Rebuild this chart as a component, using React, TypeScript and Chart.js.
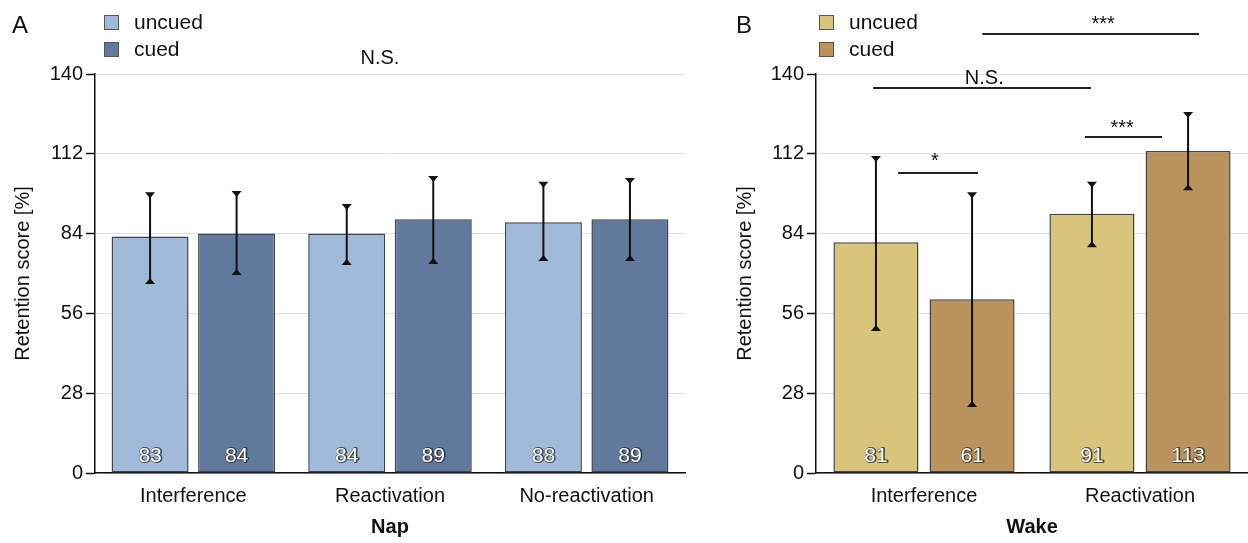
import React, { useEffect, useRef } from 'react';
import { Chart, registerables } from 'chart.js';

Chart.register(...registerables);

const FONT = "'Liberation Sans', Arial, Helvetica, sans-serif";

// ---------- Data ----------
const yTickValues = [0, 28, 56, 84, 112, 140];

const napCategories = ['Interference', 'Reactivation', 'No-reactivation'];
const napUncued = [83, 84, 88];
const napCued = [84, 89, 89];
const napUncuedLow = [66.7, 73.3, 74.7];
const napUncuedHigh = [98.2, 94.0, 101.8];
const napCuedLow = [69.8, 73.7, 74.7];
const napCuedHigh = [98.6, 103.9, 103.2];

const wakeCategories = ['Interference', 'Reactivation'];
const wakeUncued = [81, 91];
const wakeCued = [61, 113];
const wakeUncuedLow = [50.2, 79.6];
const wakeUncuedHigh = [110.9, 101.8];
const wakeCuedLow = [23.5, 99.6];
const wakeCuedHigh = [98.2, 126.3];

// significance annotations (category units / value units)
const wakeBrackets = [
  { from: 0.27, to: 1.273, y: 154.0, label: '***', labelX: 0.829, labelY: 155.6 },
  { from: -0.236, to: 0.773, y: 135.1, label: 'N.S.', labelX: 0.279, labelY: 136.5 },
  { from: 0.745, to: 1.102, y: 117.9, label: '***', labelX: 0.917, labelY: 119.1 },
  { from: -0.12, to: 0.25, y: 105.3, label: '*', labelX: 0.05, labelY: 107.5 },
];
const napNotes = [{ label: 'N.S.', labelX: 0.949, labelY: 143.5 }];

interface Series {
  label: string;
  data: number[];
  low: number[];
  high: number[];
  color: string;
}

interface PanelCfg {
  categories: string[];
  series: Series[];
  xTitle: string;
  letter: string;
  letterX: number;
  legendX: number;
  yAxisWidth: number;
  padRight: number;
  titlePad: number;
  catPct: number;
  barPct: number;
  brackets: { from: number; to: number; y: number; label: string; labelX: number; labelY: number }[];
  notes: { label: string; labelX: number; labelY: number }[];
}

function createPanel(canvas: HTMLCanvasElement, cfg: PanelCfg) {
  const extras = {
    id: 'panelExtras',
    afterDatasetsDraw(chart: any) {
      const ctx = chart.ctx;
      const ys = chart.scales.y;
      cfg.series.forEach((s, di) => {
        const meta = chart.getDatasetMeta(di);
        meta.data.forEach((bar: any, i: number) => {
          const x = bar.x;
          const yl = ys.getPixelForValue(s.low[i]);
          const yh = ys.getPixelForValue(s.high[i]);
          ctx.save();
          ctx.strokeStyle = '#111';
          ctx.fillStyle = '#111';
          ctx.lineWidth = 2;
          ctx.beginPath();
          ctx.moveTo(x, yh);
          ctx.lineTo(x, yl);
          ctx.stroke();
          ctx.beginPath();
          ctx.moveTo(x - 5, yh - 1);
          ctx.lineTo(x + 5, yh - 1);
          ctx.lineTo(x, yh + 5);
          ctx.closePath();
          ctx.fill();
          ctx.beginPath();
          ctx.moveTo(x - 5, yl + 1);
          ctx.lineTo(x + 5, yl + 1);
          ctx.lineTo(x, yl - 5);
          ctx.closePath();
          ctx.fill();
          // value label
          ctx.font = `21px ${FONT}`;
          ctx.textAlign = 'center';
          ctx.textBaseline = 'middle';
          const ly = ys.getPixelForValue(0) - 17;
          ctx.lineJoin = 'round';
          ctx.lineWidth = 2;
          ctx.strokeStyle = 'rgba(40,40,40,0.75)';
          ctx.strokeText(String(s.data[i]), x + 0.7, ly + 0.7);
          ctx.fillStyle = '#ffffff';
          ctx.fillText(String(s.data[i]), x, ly);
          ctx.restore();
        });
      });
    },
    afterDraw(chart: any) {
      const ctx = chart.ctx;
      const xs = chart.scales.x;
      const ys = chart.scales.y;
      ctx.save();
      // panel letter
      ctx.fillStyle = '#111';
      ctx.font = `24px ${FONT}`;
      ctx.textAlign = 'left';
      ctx.textBaseline = 'alphabetic';
      ctx.fillText(cfg.letter, cfg.letterX, 33);
      // legend
      cfg.series.forEach((s, i) => {
        const top = 15 + i * 27;
        ctx.fillStyle = s.color;
        ctx.fillRect(cfg.legendX, top, 15, 15);
        ctx.strokeStyle = '#555';
        ctx.lineWidth = 1;
        ctx.strokeRect(cfg.legendX + 0.5, top + 0.5, 14, 14);
        ctx.fillStyle = '#111';
        ctx.font = `21px ${FONT}`;
        ctx.textBaseline = 'middle';
        ctx.fillText(s.label, cfg.legendX + 30, top + 8);
      });
      // brackets
      ctx.strokeStyle = '#222';
      ctx.lineWidth = 2;
      ctx.textAlign = 'center';
      ctx.textBaseline = 'alphabetic';
      cfg.brackets.forEach((b) => {
        const yp = Math.round(ys.getPixelForValue(b.y));
        ctx.beginPath();
        ctx.moveTo(xs.getPixelForValue(b.from), yp);
        ctx.lineTo(xs.getPixelForValue(b.to), yp);
        ctx.stroke();
        ctx.fillStyle = '#111';
        ctx.font = `20px ${FONT}`;
        ctx.fillText(b.label, xs.getPixelForValue(b.labelX), ys.getPixelForValue(b.labelY));
      });
      cfg.notes.forEach((n) => {
        ctx.fillStyle = '#111';
        ctx.font = `20px ${FONT}`;
        ctx.fillText(n.label, xs.getPixelForValue(n.labelX), ys.getPixelForValue(n.labelY));
      });
      ctx.restore();
    },
  };

  return new Chart(canvas, {
    type: 'bar',
    data: {
      labels: cfg.categories,
      datasets: cfg.series.map((s) => ({
        label: s.label,
        data: s.data,
        backgroundColor: s.color,
        borderColor: '#3f454c',
        borderWidth: 1.5,
        borderSkipped: false,
        categoryPercentage: cfg.catPct,
        barPercentage: cfg.barPct,
      })),
    },
    options: {
      responsive: false,
      animation: false,
      devicePixelRatio: 1,
      layout: { padding: { left: 0, top: 74, right: cfg.padRight, bottom: 0 } },
      plugins: {
        legend: { display: false },
        tooltip: { enabled: false },
      },
      scales: {
        x: {
          afterFit: (s: any) => {
            s.height = 70;
          },
          grid: { display: false, drawTicks: false },
          border: { display: true, color: '#111', width: 1.5 },
          ticks: {
            padding: 11,
            color: '#111',
            autoSkip: false,
            maxRotation: 0,
            font: { family: FONT, size: 20 },
          },
          title: {
            display: true,
            text: cfg.xTitle,
            color: '#111',
            font: { family: FONT, size: 20, weight: 'bold' },
            padding: { top: 0, bottom: 4 },
          },
        },
        y: {
          min: 0,
          max: 140,
          afterFit: (s: any) => {
            s.width = cfg.yAxisWidth;
          },
          afterBuildTicks: (s: any) => {
            s.ticks = yTickValues.map((v) => ({ value: v }));
          },
          grid: {
            color: '#e0e0e0',
            lineWidth: 1,
            tickLength: 9,
            tickColor: '#111',
            tickWidth: 1.5,
          },
          border: { display: true, color: '#111', width: 1.5 },
          ticks: {
            padding: 3,
            color: '#111',
            font: { family: FONT, size: 20 },
          },
          title: {
            display: true,
            text: 'Retention score [%]',
            color: '#111',
            font: { family: FONT, size: 20 },
            padding: { top: cfg.titlePad, bottom: 0 },
          },
        },
      },
    } as any,
    plugins: [extras],
  });
}

export default function App() {
  const aRef = useRef<HTMLCanvasElement>(null);
  const bRef = useRef<HTMLCanvasElement>(null);

  useEffect(() => {
    const a = createPanel(aRef.current!, {
      categories: napCategories,
      series: [
        { label: 'uncued', data: napUncued, low: napUncuedLow, high: napUncuedHigh, color: '#a1bad9' },
        { label: 'cued', data: napCued, low: napCuedLow, high: napCuedHigh, color: '#61799c' },
      ],
      xTitle: 'Nap',
      letter: 'A',
      letterX: 12,
      legendX: 104,
      yAxisWidth: 95,
      padRight: 25,
      titlePad: 11,
      catPct: 0.88,
      barPct: 0.89,
      brackets: [],
      notes: napNotes,
    });
    const b = createPanel(bRef.current!, {
      categories: wakeCategories,
      series: [
        { label: 'uncued', data: wakeUncued, low: wakeUncuedLow, high: wakeUncuedHigh, color: '#d9c47b' },
        { label: 'cued', data: wakeCued, low: wakeCuedLow, high: wakeCuedHigh, color: '#b9935b' },
      ],
      xTitle: 'Wake',
      letter: 'B',
      letterX: 16,
      legendX: 99,
      yAxisWidth: 96,
      padRight: 0,
      titlePad: 13,
      catPct: 0.89,
      barPct: 0.885,
      brackets: wakeBrackets,
      notes: [],
    });
    return () => {
      a.destroy();
      b.destroy();
    };
  }, []);

  return (
    <div
      style={{
        position: 'absolute',
        left: 0,
        top: 0,
        width: 1248,
        height: 543,
        background: '#ffffff',
        overflow: 'hidden',
      }}
    >
      <canvas ref={aRef} width={710} height={543} style={{ position: 'absolute', left: 0, top: 0 }} />
      <canvas ref={bRef} width={528} height={543} style={{ position: 'absolute', left: 720, top: 0 }} />
    </div>
  );
}
